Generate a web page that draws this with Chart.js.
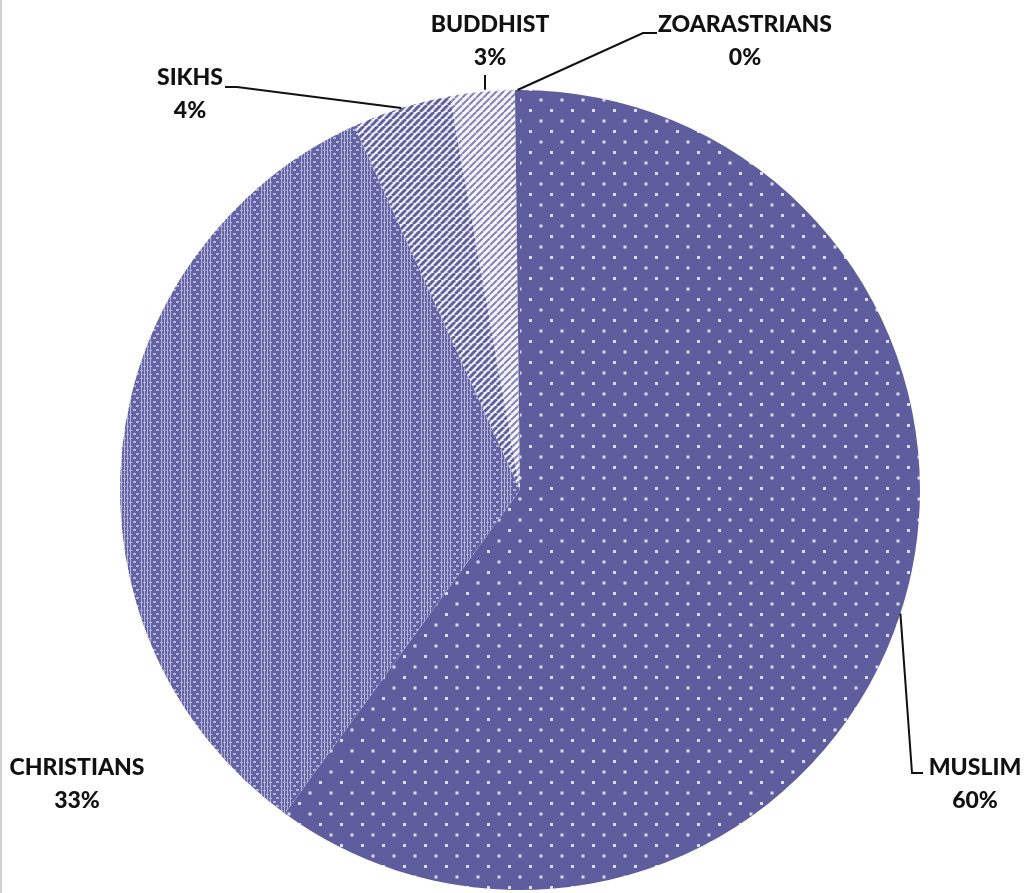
<!DOCTYPE html>
<html>
<head>
<meta charset="utf-8">
<script src="https://cdn.jsdelivr.net/npm/chart.js@4/dist/chart.umd.min.js"></script>
<style>
  html, body { margin: 0; padding: 0; background: #ffffff; }
  #wrap { position: relative; width: 1029px; height: 893px; }
  #edge { position: absolute; left: 0; top: 0; width: 2px; height: 893px; background: #d0d0d0; }
</style>
</head>
<body>
<div id="wrap">
  <canvas id="c" width="1029" height="893"></canvas>
  <div id="edge"></div>
</div>
<script>
// ---- data ----
const categories = ["MUSLIM", "CHRISTIANS", "SIKHS", "BUDDHIST", "ZOARASTRIANS"];
const shares = [60.0, 33.2, 4.0, 2.6, 0.2];
const percentLabels = ["60%", "33%", "4%", "3%", "0%"];

// ---- patterns ----
function mkPattern(w, h, draw) {
  const c = document.createElement('canvas');
  c.width = w; c.height = h;
  const g = c.getContext('2d');
  draw(g, w, h);
  return g.createPattern(c, 'repeat');
}
const base = '#5e5e9e';
const muslimPat = mkPattern(21, 21, (g, w, h) => {
  g.fillStyle = base; g.fillRect(0, 0, w, h);
  g.fillStyle = '#dcdcf0';
  g.fillRect(4, 4, 3, 3);
  g.fillRect(14.5, 14.5, 3, 3);
});
const christPat = mkPattern(20, 8, (g, w, h) => {
  g.fillStyle = '#6464a4'; g.fillRect(0, 0, w, h);
  g.fillStyle = '#b4b4da';
  // vertical lines with ticks
  g.fillRect(1, 0, 1, h);
  g.fillRect(4, 0, 1, h);
  g.fillRect(7, 0, 1, h);
  g.fillRect(10, 0, 1, h);
  g.fillRect(0, 2, 3, 1);
  g.fillRect(3, 6, 3, 1);
  g.fillRect(6, 2, 3, 1);
  g.fillRect(9, 6, 3, 1);
  // dashes
  g.fillRect(13, 1, 3, 2);
  g.fillRect(16, 5, 3, 2);
});
const sikhPat = mkPattern(7, 7, (g, w, h) => {
  g.fillStyle = '#f2f2fa'; g.fillRect(0, 0, w, h);
  g.strokeStyle = '#6060a0'; g.lineWidth = 3;
  for (let k = -1; k <= 1; k++) {
    g.beginPath(); g.moveTo(k * w, h); g.lineTo(k * w + w, 0); g.stroke();
  }
});
const buddPat = mkPattern(7, 7, (g, w, h) => {
  g.fillStyle = '#f6f6fb'; g.fillRect(0, 0, w, h);
  g.strokeStyle = '#8484b8'; g.lineWidth = 2;
  for (let k = -1; k <= 1; k++) {
    g.beginPath(); g.moveTo(k * w, h); g.lineTo(k * w + w, 0); g.stroke();
  }
});
const fills = [muslimPat, christPat, sikhPat, buddPat, base];

// ---- label layout (style only) ----
const labelLayout = [
  { tx: 975, ty: 768, path: [[912, 773], [923, 773]], fromAngleFrac: 0.5 },
  { tx: 77,  ty: 768, path: null },
  { tx: 190, ty: 78,  path: [[237, 87], [225, 87]], fromAngleFrac: 0.5 },
  { tx: 490, ty: 25,  path: [[485, 75]], fromAngleFrac: 0.5, vertical: true },
  { tx: 745, ty: 25,  path: [[643, 33], [657, 33]], fromAngleFrac: 0.5 }
];

const labelPlugin = {
  id: 'labels',
  afterDraw(chart) {
    const ctx = chart.ctx;
    const meta = chart.getDatasetMeta(0);
    ctx.save();
    meta.data.forEach((arc, i) => {
      const L = labelLayout[i];
      const p = arc.getProps(['x', 'y', 'startAngle', 'endAngle', 'outerRadius'], true);
      if (L.path) {
        let a = p.startAngle + (p.endAngle - p.startAngle) * L.fromAngleFrac;
        let sx = p.x + Math.cos(a) * p.outerRadius;
        let sy = p.y + Math.sin(a) * p.outerRadius;
        ctx.strokeStyle = '#111';
        ctx.lineWidth = 2;
        ctx.beginPath();
        if (L.vertical) {
          ctx.moveTo(L.path[0][0], sy - 2);
          ctx.lineTo(L.path[0][0], L.path[0][1]);
        } else {
          ctx.moveTo(sx, sy);
          L.path.forEach(pt => ctx.lineTo(pt[0], pt[1]));
        }
        ctx.stroke();
      }
      ctx.fillStyle = '#111';
      ctx.font = '900 23px Lato, "Open Sans", sans-serif';
      ctx.textAlign = 'center';
      ctx.textBaseline = 'middle';
      ctx.fillText(categories[i], L.tx, L.ty);
      ctx.fillText(percentLabels[i], L.tx, L.ty + 33);
    });
    ctx.restore();
  }
};

new Chart(document.getElementById('c'), {
  type: 'pie',
  data: {
    labels: categories,
    datasets: [{
      data: shares,
      backgroundColor: fills,
      borderWidth: 0
    }]
  },
  options: {
    responsive: false,
    animation: false,
    layout: { padding: { left: 120, right: 109, top: 90, bottom: 3 } },
    plugins: {
      legend: { display: false },
      tooltip: { enabled: false }
    }
  },
  plugins: [labelPlugin]
});
</script>
</body>
</html>
